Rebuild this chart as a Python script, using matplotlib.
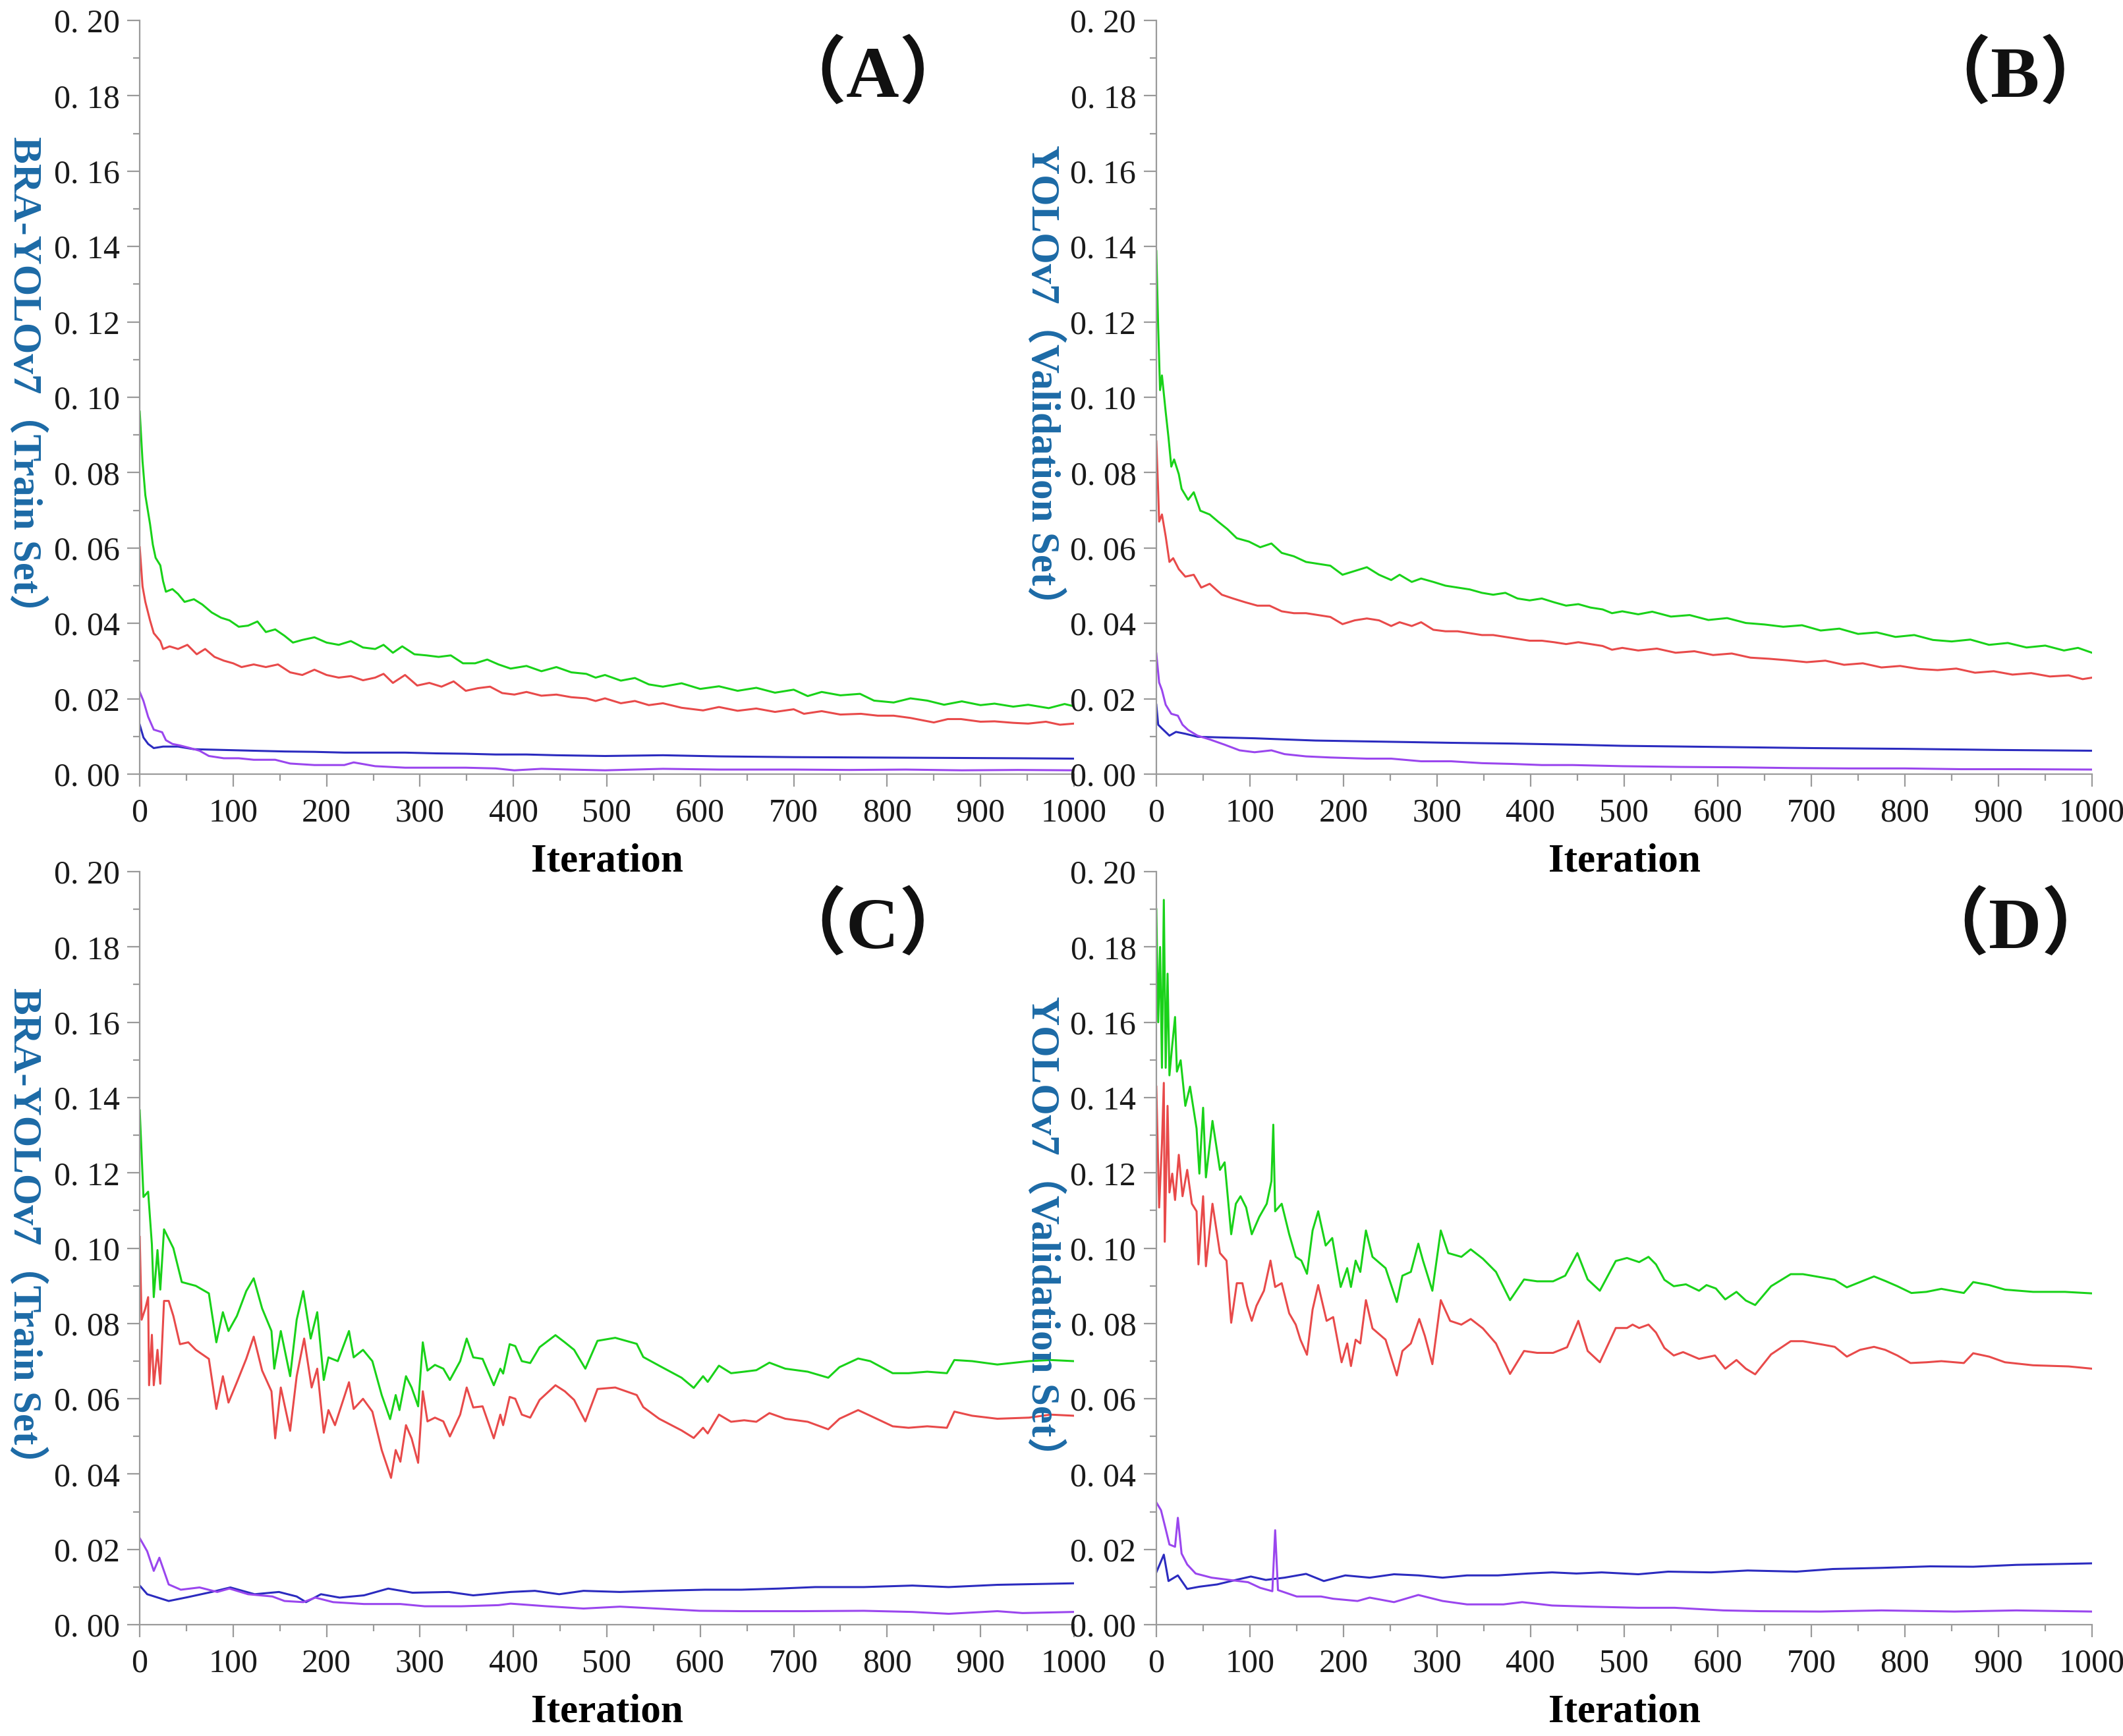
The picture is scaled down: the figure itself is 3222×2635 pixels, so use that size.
import matplotlib
matplotlib.use("Agg")
from matplotlib import pyplot as plt
from matplotlib.ticker import MultipleLocator, FuncFormatter

# values, (iteration, loss)
# ---- panel A: BRA-YOLOv7 train
a_green = [(0, 0.0962), (3, 0.083), (6, 0.074), (11, 0.0664), (14, 0.0609), (17, 0.0574), (22, 0.0554), (25, 0.0512),
           (28, 0.0484), (35, 0.0491), (41, 0.0478), (48, 0.0457), (58, 0.0464), (67, 0.045), (77, 0.0429), (87, 0.0415),
           (96, 0.0408), (106, 0.0391), (116, 0.0394), (126, 0.0405), (135, 0.0377), (145, 0.0384), (155, 0.0367),
           (164, 0.0349), (174, 0.0356), (187, 0.0363), (200, 0.0349), (213, 0.0343), (226, 0.0353), (239, 0.0336),
           (252, 0.0332), (261, 0.0343), (271, 0.0322), (281, 0.0339), (294, 0.0318), (307, 0.0315), (320, 0.0311),
           (333, 0.0315), (346, 0.0294), (359, 0.0294), (372, 0.0304), (384, 0.0291), (397, 0.028), (414, 0.0287),
           (430, 0.0273), (446, 0.0284), (462, 0.027), (478, 0.0266), (488, 0.0256), (498, 0.0263), (515, 0.0248),
           (530, 0.0255), (545, 0.0238), (560, 0.0232), (580, 0.0241), (600, 0.0226), (620, 0.0233), (640, 0.0221),
           (660, 0.0229), (680, 0.0216), (700, 0.0224), (715, 0.0207), (730, 0.0218), (750, 0.0209), (771, 0.0213),
           (786, 0.0195), (807, 0.019), (825, 0.0201), (843, 0.0195), (861, 0.0184), (880, 0.0193), (900, 0.0183),
           (915, 0.0187), (935, 0.0179), (951, 0.0184), (973, 0.0175), (990, 0.0186), (1000, 0.018)]
a_red = [(0, 0.0602), (3, 0.0498), (6, 0.0457), (11, 0.0408), (15, 0.0374), (22, 0.0353), (25, 0.0332), (32, 0.0339),
         (41, 0.0332), (51, 0.0343), (61, 0.0318), (70, 0.0332), (80, 0.0311), (90, 0.0301), (100, 0.0294), (109, 0.0284),
         (122, 0.0291), (135, 0.0284), (148, 0.0291), (161, 0.027), (174, 0.0263), (187, 0.0277), (200, 0.0263),
         (213, 0.0256), (226, 0.026), (239, 0.0249), (252, 0.0256), (261, 0.0266), (271, 0.0242), (284, 0.0263),
         (297, 0.0235), (310, 0.0242), (323, 0.0232), (336, 0.0246), (349, 0.0221), (362, 0.0228), (375, 0.0232),
         (388, 0.0215), (401, 0.0211), (414, 0.0218), (430, 0.0208), (446, 0.0211), (462, 0.0204), (478, 0.0201),
         (488, 0.0194), (498, 0.0201), (515, 0.0188), (530, 0.0194), (545, 0.0183), (560, 0.0188), (580, 0.0176),
         (603, 0.0169), (620, 0.0178), (640, 0.0168), (660, 0.0174), (680, 0.0165), (700, 0.0172), (711, 0.016),
         (730, 0.0167), (750, 0.0158), (772, 0.016), (790, 0.0155), (807, 0.0155), (825, 0.0149), (850, 0.0137),
         (865, 0.0146), (879, 0.0146), (900, 0.0139), (915, 0.014), (935, 0.0136), (951, 0.0134), (970, 0.0139),
         (985, 0.0131), (1000, 0.0134)]
a_purple = [(0, 0.0218), (4, 0.0194), (9, 0.0152), (15, 0.0118), (24, 0.0111), (28, 0.009), (35, 0.008), (43, 0.0076),
            (54, 0.0069), (64, 0.0062), (74, 0.0048), (90, 0.0042), (106, 0.0042), (122, 0.0038), (145, 0.0038),
            (161, 0.0028), (187, 0.0024), (219, 0.0024), (229, 0.0031), (252, 0.0021), (284, 0.0017), (317, 0.0017),
            (349, 0.0017), (381, 0.0015), (401, 0.001), (430, 0.0014), (462, 0.0012), (498, 0.001), (560, 0.0014),
            (620, 0.0012), (700, 0.0012), (760, 0.0011), (820, 0.0012), (880, 0.001), (940, 0.0011), (1000, 0.001)]
a_blue = [(0, 0.0131), (4, 0.0097), (9, 0.008), (15, 0.0069), (25, 0.0073), (41, 0.0073), (58, 0.0066), (90, 0.0064),
          (122, 0.0062), (155, 0.006), (187, 0.0059), (219, 0.0057), (252, 0.0057), (284, 0.0057), (317, 0.0055),
          (349, 0.0054), (381, 0.0052), (414, 0.0052), (446, 0.005), (498, 0.0048), (560, 0.005), (620, 0.0047),
          (700, 0.0045), (780, 0.0044), (860, 0.0043), (940, 0.0042), (1000, 0.0041)]

# ---- panel B: YOLOv7 validation
b_green = [(0, 0.1388), (2, 0.1184), (4, 0.1019), (6, 0.1058), (10, 0.0961), (13, 0.0893), (16, 0.0816), (19, 0.0835),
           (24, 0.0796), (27, 0.0757), (34, 0.0728), (40, 0.0748), (47, 0.0699), (57, 0.0689), (66, 0.067), (76, 0.065),
           (86, 0.0626), (99, 0.0617), (111, 0.0602), (123, 0.0612), (134, 0.0587), (147, 0.0578), (160, 0.0563),
           (173, 0.0558), (186, 0.0553), (199, 0.0529), (212, 0.0539), (225, 0.0549), (238, 0.0529), (251, 0.0515),
           (260, 0.0529), (273, 0.051), (283, 0.0519), (296, 0.051), (309, 0.05), (322, 0.0495), (335, 0.049),
           (348, 0.0481), (360, 0.0476), (373, 0.0481), (386, 0.0466), (399, 0.0461), (412, 0.0466), (425, 0.0456),
           (438, 0.0447), (451, 0.0451), (464, 0.0442), (477, 0.0437), (487, 0.0427), (498, 0.0432), (515, 0.0424),
           (530, 0.0431), (550, 0.0418), (570, 0.0422), (590, 0.0409), (610, 0.0414), (630, 0.0401), (650, 0.0397),
           (670, 0.0391), (690, 0.0395), (710, 0.0381), (730, 0.0386), (750, 0.0372), (770, 0.0376), (790, 0.0364),
           (810, 0.0369), (830, 0.0356), (850, 0.0352), (870, 0.0357), (890, 0.0343), (910, 0.0348), (930, 0.0336),
           (950, 0.0341), (970, 0.0328), (985, 0.0335), (1000, 0.0322)]
b_red = [(0, 0.0883), (2, 0.0748), (3, 0.067), (6, 0.0689), (10, 0.0631), (14, 0.0563), (18, 0.0573), (24, 0.0544),
         (31, 0.0524), (40, 0.0529), (48, 0.0495), (57, 0.0505), (70, 0.0476), (82, 0.0466), (95, 0.0456), (108, 0.0447),
         (121, 0.0447), (134, 0.0432), (147, 0.0427), (160, 0.0427), (173, 0.0422), (186, 0.0417), (199, 0.0398),
         (212, 0.0408), (225, 0.0413), (238, 0.0408), (251, 0.0393), (260, 0.0403), (273, 0.0393), (283, 0.0403),
         (296, 0.0383), (309, 0.0379), (322, 0.0379), (335, 0.0374), (348, 0.0369), (360, 0.0369), (373, 0.0364),
         (386, 0.0359), (399, 0.0354), (412, 0.0354), (425, 0.035), (438, 0.0345), (451, 0.035), (464, 0.0345),
         (477, 0.034), (487, 0.033), (498, 0.0335), (515, 0.0328), (535, 0.0333), (555, 0.0322), (575, 0.0326),
         (595, 0.0316), (615, 0.032), (635, 0.0309), (655, 0.0306), (675, 0.0302), (695, 0.0297), (715, 0.0301),
         (735, 0.029), (755, 0.0294), (775, 0.0283), (795, 0.0287), (815, 0.0279), (835, 0.0276), (855, 0.028),
         (875, 0.0269), (895, 0.0273), (915, 0.0264), (935, 0.0268), (955, 0.0259), (975, 0.0262), (990, 0.0252),
         (1000, 0.0256)]
b_purple = [(0, 0.032), (3, 0.0243), (6, 0.0223), (10, 0.0184), (16, 0.016), (23, 0.0155), (28, 0.0131), (34, 0.0117),
            (44, 0.0102), (57, 0.0092), (73, 0.0078), (89, 0.0063), (105, 0.0058), (123, 0.0063), (137, 0.0053),
            (160, 0.0047), (186, 0.0044), (225, 0.0041), (251, 0.0041), (283, 0.0034), (315, 0.0034), (348, 0.0029),
            (380, 0.0027), (412, 0.0024), (445, 0.0024), (498, 0.0021), (560, 0.0019), (620, 0.0018), (680, 0.0016),
            (740, 0.0015), (800, 0.0015), (860, 0.0013), (920, 0.0013), (1000, 0.0012)]
b_blue = [(0, 0.0184), (2, 0.0131), (6, 0.0121), (14, 0.0102), (21, 0.0112), (31, 0.0107), (44, 0.0099), (73, 0.0097),
          (105, 0.0095), (137, 0.0092), (170, 0.0089), (218, 0.0087), (267, 0.0085), (315, 0.0083), (380, 0.0081),
          (445, 0.0078), (498, 0.0075), (600, 0.0072), (700, 0.0069), (800, 0.0067), (900, 0.0064), (1000, 0.0062)]

# ---- panel C: BRA-YOLOv7 train
c_green = [(0, 0.1366), (4, 0.1136), (9, 0.115), (13, 0.101), (15, 0.087), (19, 0.0995), (22, 0.089), (26, 0.105),
           (36, 0.1), (45, 0.091), (60, 0.09), (74, 0.088), (82, 0.075), (89, 0.083), (95, 0.078), (104, 0.082),
           (114, 0.0886), (122, 0.092), (131, 0.084), (141, 0.078), (144, 0.068), (151, 0.078), (161, 0.066),
           (168, 0.081), (175, 0.0886), (183, 0.076), (190, 0.083), (197, 0.065), (202, 0.071), (212, 0.07),
           (224, 0.078), (229, 0.071), (239, 0.073), (249, 0.07), (259, 0.061), (268, 0.0546), (274, 0.061),
           (278, 0.057), (285, 0.066), (291, 0.063), (298, 0.058), (303, 0.075), (308, 0.0675), (316, 0.069),
           (325, 0.068), (332, 0.065), (343, 0.07), (350, 0.076), (357, 0.071), (367, 0.0706), (379, 0.0636),
           (386, 0.068), (389, 0.0667), (396, 0.0745), (402, 0.074), (409, 0.07), (418, 0.0695), (428, 0.0737),
           (445, 0.0769), (455, 0.075), (465, 0.073), (477, 0.068), (490, 0.0754), (509, 0.0762), (532, 0.0746),
           (539, 0.0711), (556, 0.0688), (580, 0.0656), (593, 0.0629), (603, 0.066), (608, 0.0645), (620, 0.0688),
           (633, 0.0668), (647, 0.0672), (660, 0.0676), (674, 0.0696), (691, 0.068), (715, 0.0672), (737, 0.0656),
           (749, 0.0684), (769, 0.0707), (782, 0.07), (806, 0.0668), (823, 0.0668), (843, 0.0672), (864, 0.0668),
           (872, 0.0703), (891, 0.07), (918, 0.0691), (952, 0.07), (975, 0.0703), (1000, 0.07)]
c_red = [(0, 0.103), (2, 0.081), (6, 0.084), (9, 0.087), (10, 0.0636), (13, 0.077), (15, 0.0636), (19, 0.073),
         (22, 0.064), (26, 0.086), (31, 0.086), (36, 0.082), (43, 0.0745), (52, 0.075), (60, 0.073), (74, 0.0706),
         (82, 0.0573), (89, 0.066), (95, 0.059), (104, 0.0644), (114, 0.0706), (122, 0.0765), (131, 0.0675),
         (141, 0.062), (145, 0.0495), (151, 0.063), (161, 0.0515), (168, 0.066), (176, 0.076), (184, 0.063),
         (190, 0.068), (197, 0.051), (202, 0.057), (209, 0.053), (224, 0.0644), (229, 0.0573), (239, 0.06),
         (249, 0.0566), (259, 0.0464), (269, 0.039), (274, 0.0464), (279, 0.0433), (285, 0.053), (291, 0.0495),
         (298, 0.043), (303, 0.062), (308, 0.054), (316, 0.055), (325, 0.054), (332, 0.05), (343, 0.0558),
         (350, 0.063), (357, 0.0577), (367, 0.058), (379, 0.0495), (386, 0.0558), (389, 0.053), (396, 0.0605),
         (402, 0.06), (409, 0.0558), (418, 0.055), (428, 0.0597), (445, 0.0636), (455, 0.062), (465, 0.0597),
         (477, 0.054), (490, 0.0626), (509, 0.063), (532, 0.061), (539, 0.0578), (556, 0.0547), (580, 0.0516),
         (593, 0.0496), (603, 0.0523), (608, 0.0508), (620, 0.0558), (633, 0.0539), (647, 0.0543), (660, 0.0539),
         (674, 0.0562), (691, 0.0547), (715, 0.0539), (737, 0.0519), (749, 0.0547), (769, 0.057), (782, 0.0555),
         (806, 0.0527), (823, 0.0523), (843, 0.0527), (864, 0.0523), (872, 0.0566), (891, 0.0555), (918, 0.0547),
         (952, 0.055), (975, 0.0558), (1000, 0.0555)]
c_purple = [(0, 0.023), (8, 0.0195), (15, 0.0143), (21, 0.0178), (31, 0.0107), (44, 0.0093), (64, 0.0099), (83, 0.0087),
            (96, 0.0096), (116, 0.0081), (142, 0.0075), (155, 0.0063), (175, 0.006), (188, 0.0072), (207, 0.006),
            (240, 0.0055), (279, 0.0055), (305, 0.0049), (344, 0.0049), (384, 0.0052), (397, 0.0056), (436, 0.0049),
            (475, 0.0043), (514, 0.0048), (553, 0.0043), (599, 0.0037), (644, 0.0036), (710, 0.0036), (775, 0.0037),
            (827, 0.0034), (866, 0.0029), (918, 0.0036), (945, 0.0031), (1000, 0.0034)]
c_blue = [(0, 0.0104), (8, 0.0081), (31, 0.0063), (51, 0.0073), (77, 0.0087), (97, 0.0099), (123, 0.0081), (149, 0.0087),
          (168, 0.0075), (178, 0.006), (194, 0.0081), (214, 0.0072), (240, 0.0078), (266, 0.0096), (292, 0.0085),
          (331, 0.0087), (357, 0.0078), (397, 0.0087), (423, 0.009), (449, 0.0081), (475, 0.009), (514, 0.0087),
          (553, 0.009), (605, 0.0093), (644, 0.0093), (684, 0.0096), (723, 0.01), (775, 0.01), (827, 0.0104),
          (866, 0.01), (918, 0.0106), (1000, 0.011)]

# ---- panel D: YOLOv7 validation
d_green = [(0, 0.19), (2, 0.16), (4, 0.18), (6, 0.1479), (8, 0.1925), (10, 0.1479), (12, 0.1729), (14, 0.1459),
           (17, 0.1539), (20, 0.1614), (22, 0.1469), (26, 0.1499), (31, 0.1378), (36, 0.1429), (43, 0.1318),
           (46, 0.1198), (50, 0.1373), (53, 0.1188), (60, 0.1338), (68, 0.1208), (73, 0.1228), (80, 0.1037),
           (85, 0.1118), (90, 0.1138), (96, 0.1108), (102, 0.1037), (110, 0.1083), (118, 0.1118), (123, 0.1178),
           (125, 0.1328), (127, 0.1098), (134, 0.1118), (142, 0.1037), (149, 0.0977), (155, 0.0967), (161, 0.0932),
           (167, 0.1047), (173, 0.1098), (181, 0.1007), (188, 0.1027), (197, 0.0897), (204, 0.0947), (208, 0.0897),
           (213, 0.0967), (218, 0.0937), (224, 0.1047), (231, 0.0977), (245, 0.0947), (257, 0.0857), (263, 0.0927),
           (272, 0.0937), (280, 0.1012), (285, 0.0967), (295, 0.0887), (304, 0.1047), (312, 0.0987), (326, 0.0977),
           (336, 0.0997), (349, 0.0972), (363, 0.0937), (378, 0.0862), (393, 0.0917), (407, 0.0912), (424, 0.0912),
           (437, 0.0927), (450, 0.0987), (461, 0.0917), (474, 0.0887), (491, 0.0966), (503, 0.0974), (516, 0.0963),
           (526, 0.0977), (534, 0.0957), (543, 0.0916), (553, 0.0899), (566, 0.0904), (580, 0.0887), (588, 0.0902),
           (598, 0.0893), (608, 0.0864), (620, 0.0884), (630, 0.0861), (640, 0.0849), (657, 0.0899), (678, 0.0931),
           (691, 0.0931), (712, 0.0922), (725, 0.0916), (738, 0.0896), (752, 0.091), (767, 0.0925), (779, 0.0913),
           (792, 0.0899), (807, 0.0881), (823, 0.0884), (839, 0.0892), (863, 0.0881), (873, 0.091), (890, 0.0902),
           (907, 0.089), (937, 0.0884), (971, 0.0884), (1000, 0.088)]
d_red = [(0, 0.1429), (3, 0.1108), (6, 0.1278), (8, 0.1439), (9, 0.1017), (12, 0.1378), (14, 0.1148), (17, 0.1198),
         (20, 0.1128), (24, 0.1248), (28, 0.1138), (33, 0.1208), (38, 0.1118), (43, 0.1098), (45, 0.0957),
         (50, 0.1138), (53, 0.0952), (60, 0.1118), (68, 0.0987), (75, 0.0967), (80, 0.0802), (86, 0.0907),
         (92, 0.0907), (97, 0.0847), (102, 0.0807), (107, 0.0847), (115, 0.0887), (122, 0.0967), (127, 0.0897),
         (134, 0.0907), (142, 0.0827), (149, 0.0797), (154, 0.0757), (161, 0.0717), (167, 0.0837), (173, 0.0902),
         (182, 0.0807), (189, 0.0817), (198, 0.0697), (204, 0.0747), (208, 0.0687), (213, 0.0757), (218, 0.0747),
         (224, 0.0862), (231, 0.0787), (245, 0.0757), (257, 0.0662), (263, 0.0727), (272, 0.0747), (281, 0.0812),
         (287, 0.0767), (295, 0.0692), (304, 0.0862), (314, 0.0807), (326, 0.0797), (336, 0.0812), (349, 0.0787),
         (363, 0.0747), (378, 0.0666), (393, 0.0727), (407, 0.0722), (424, 0.0722), (439, 0.0737), (451, 0.0807),
         (461, 0.0727), (474, 0.0697), (491, 0.0788), (503, 0.0788), (509, 0.0797), (516, 0.0788), (526, 0.0797),
         (534, 0.0776), (543, 0.0735), (553, 0.0715), (563, 0.0724), (580, 0.0706), (597, 0.0715), (608, 0.068),
         (620, 0.0703), (630, 0.068), (640, 0.0665), (657, 0.0718), (678, 0.0753), (691, 0.0753), (712, 0.0744),
         (725, 0.0738), (738, 0.0712), (752, 0.073), (767, 0.0738), (779, 0.073), (792, 0.0715), (806, 0.0695),
         (823, 0.0697), (839, 0.07), (863, 0.0695), (873, 0.0721), (890, 0.0712), (907, 0.0697), (937, 0.0689),
         (975, 0.0686), (1000, 0.068)]
d_purple = [(0, 0.0325), (5, 0.0304), (10, 0.0254), (14, 0.0213), (20, 0.0207), (23, 0.0284), (27, 0.0189), (33, 0.016),
            (42, 0.0136), (59, 0.0125), (78, 0.0119), (98, 0.0113), (111, 0.0098), (124, 0.0089), (127, 0.0251),
            (130, 0.0092), (150, 0.0075), (176, 0.0075), (189, 0.0069), (215, 0.0063), (228, 0.0072), (254, 0.006),
            (280, 0.0079), (306, 0.0063), (332, 0.0054), (371, 0.0054), (391, 0.006), (423, 0.0051), (463, 0.0048),
            (515, 0.0045), (554, 0.0045), (606, 0.0038), (645, 0.0036), (710, 0.0035), (775, 0.0038), (853, 0.0035),
            (919, 0.0038), (1000, 0.0035)]
d_blue = [(0, 0.0139), (8, 0.0186), (13, 0.0116), (23, 0.0131), (33, 0.0095), (46, 0.0101), (65, 0.0107), (85, 0.0119),
          (101, 0.0128), (117, 0.0119), (137, 0.0125), (160, 0.0135), (179, 0.0116), (202, 0.0131), (228, 0.0125),
          (254, 0.0134), (280, 0.0131), (306, 0.0125), (332, 0.0131), (365, 0.0131), (397, 0.0136), (423, 0.0139),
          (449, 0.0136), (476, 0.0139), (515, 0.0134), (547, 0.0141), (593, 0.0139), (632, 0.0144), (684, 0.0141),
          (723, 0.0148), (775, 0.0151), (827, 0.0155), (873, 0.0154), (919, 0.0159), (1000, 0.0163)]

train_label = "BRA-YOLOv7（Train Set）"
val_label = "YOLOv7（Validation Set）"

GREEN = "#19d219"
RED = "#e84a4a"
BLUE = "#2b2bbf"
PURPLE = "#9a46ee"
LABEL_BLUE = "#1c6aa6"
SPINE = "#9a9a9a"
SERIF = ["Liberation Serif", "Noto Sans CJK SC"]

fig = plt.figure(figsize=(16.115, 13.175), dpi=200)

# left, bottom, width, height (figure fraction)
boxes = {
    "A": [0.0658, 0.5541, 0.4399, 0.4341],
    "B": [0.5445, 0.5541, 0.4406, 0.4341],
    "C": [0.0658, 0.0641, 0.4399, 0.4338],
    "D": [0.5445, 0.0641, 0.4406, 0.4338],
}
panels = {
    "A": (a_green, a_red, a_blue, a_purple),
    "B": (b_green, b_red, b_blue, b_purple),
    "C": (c_green, c_red, c_blue, c_purple),
    "D": (d_green, d_red, d_blue, d_purple),
}
label_x = {"A": 0.0115, "B": 0.491, "C": 0.0115, "D": 0.491}
label_pos_x = {"A": 0.785, "B": 0.918, "C": 0.785, "D": 0.918}

fmt = FuncFormatter(lambda v, p: f"{v:.2f}".replace(".", ". "))

for key, box in boxes.items():
    ax = fig.add_axes(box)
    ax.patch.set_alpha(0)
    green, red, blue, purple = panels[key]
    for series, col in [(red, RED), (green, GREEN), (blue, BLUE), (purple, PURPLE)]:
        xs = [p[0] for p in series]
        ys = [p[1] for p in series]
        ax.plot(xs, ys, color=col, lw=1.1)

    ax.set_xlim(0, 1000)
    ax.set_ylim(0, 0.20)
    ax.xaxis.set_major_locator(MultipleLocator(100))
    ax.xaxis.set_minor_locator(MultipleLocator(50))
    ax.yaxis.set_major_locator(MultipleLocator(0.02))
    ax.yaxis.set_minor_locator(MultipleLocator(0.01))
    ax.yaxis.set_major_formatter(fmt)

    for s in ["top", "right"]:
        ax.spines[s].set_visible(False)
    for s in ["left", "bottom"]:
        ax.spines[s].set_color(SPINE)
        ax.spines[s].set_linewidth(0.8)

    ax.tick_params(which="major", direction="out", length=7, width=0.8, color=SPINE,
                   labelsize=18, labelcolor="#1a1a1a")
    ax.tick_params(which="minor", direction="out", length=3.5, width=0.8, color=SPINE)
    ax.tick_params(axis="y", pad=4)
    ax.tick_params(axis="x", pad=6)
    for t in ax.get_xticklabels() + ax.get_yticklabels():
        t.set_family(SERIF)

    ax.set_xlabel("Iteration", fontsize=22, fontweight="bold", family=SERIF, labelpad=8)

    ax.text(label_pos_x[key], 0.925, "（" + key + "）", transform=ax.transAxes, ha="center", va="center",
            fontsize=40, fontweight="bold", family=SERIF, color="#111111")

    ylab = train_label if key in ("A", "C") else val_label
    cy = box[1] + box[3] * 0.516
    fig.text(label_x[key], cy, ylab, rotation=-90, ha="center", va="center", fontsize=22,
             fontweight="bold", family=SERIF, color=LABEL_BLUE)

fig.savefig("out.png", dpi=200)
